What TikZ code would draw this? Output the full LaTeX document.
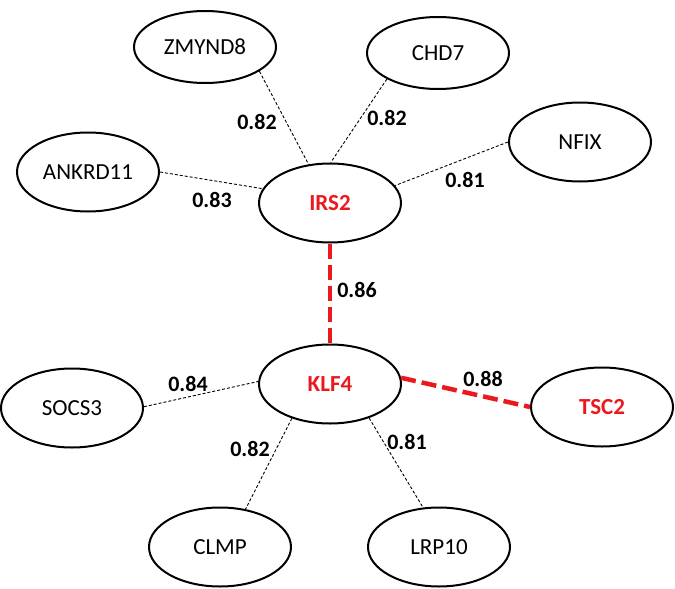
\documentclass[tikz,border=0pt]{standalone}
\usepackage{fontspec}
\setmainfont{Carlito}
\usetikzlibrary{shapes.geometric}
\definecolor{hotred}{RGB}{235,25,30}
\tikzset{
  gene/.style={ellipse, draw=black, line width=2pt, minimum width=142pt, minimum height=79pt, inner sep=0pt, font=\fontsize{23}{27}\selectfont},
  topgene/.style={gene, minimum height=72pt},
  keygene/.style={gene, text=hotred, font=\fontsize{23}{27}\selectfont\bfseries},
  weak/.style={draw=black, line width=0.9pt, dash pattern=on 3pt off 2pt},
  strong/.style={draw=hotred, line width=4.5pt, dash pattern=on 15pt off 6pt},
  score/.style={font=\fontsize{22}{26}\selectfont\bfseries, inner sep=0pt}
}
\begin{document}
\begin{tikzpicture}[x=1pt,y=-1pt]
\useasboundingbox (0,0) rectangle (675,589);
% nodes
\node[topgene] (zmynd8) at (205,47) {ZMYND8};
\node[topgene] (chd7) at (438,53) {CHD7};
\node[gene] (nfix) at (580,142) {NFIX};
\node[gene] (ankrd11) at (88,172) {ANKRD11};
\node[keygene] (irs2) at (330,203) {IRS2};
\node[keygene] (klf4) at (330,384) {KLF4};
\node[gene] (socs3) at (72,408) {SOCS3};
\node[keygene] (tsc2) at (602,407) {TSC2};
\node[gene] (clmp) at (220,547) {CLMP};
\node[gene] (lrp10) at (439,547) {LRP10};
% connectors
\draw[weak] (zmynd8.-24) -- (irs2.119);
\draw[weak] (chd7.207) -- (irs2.89);
\draw[weak] (ankrd11.0) -- (irs2.168);
\draw[weak] (nfix.180) -- (irs2.15);
\draw[strong] (irs2.south) -- (klf4.north);
\draw[strong] (klf4.5) -- (tsc2.180);
\draw[weak] (socs3.1) -- (klf4.178);
\draw[weak] (klf4.222) -- (clmp.56);
\draw[weak] (klf4.-41) -- (lrp10.112);
% scores
\node[score] (s1) at (257,122) {0.82};
\node[score] (s2) at (387,118) {0.82};
\node[score] (s3) at (212,200) {0.83};
\node[score] (s4) at (465,180) {0.81};
\node[score] (s5) at (357,290) {0.86};
\node[score] (s6) at (188,384) {0.84};
\node[score] (s7) at (483,379) {0.88};
\node[score] (s8) at (250,449) {0.82};
\node[score] (s9) at (407,442) {0.81};
\end{tikzpicture}
\end{document}
